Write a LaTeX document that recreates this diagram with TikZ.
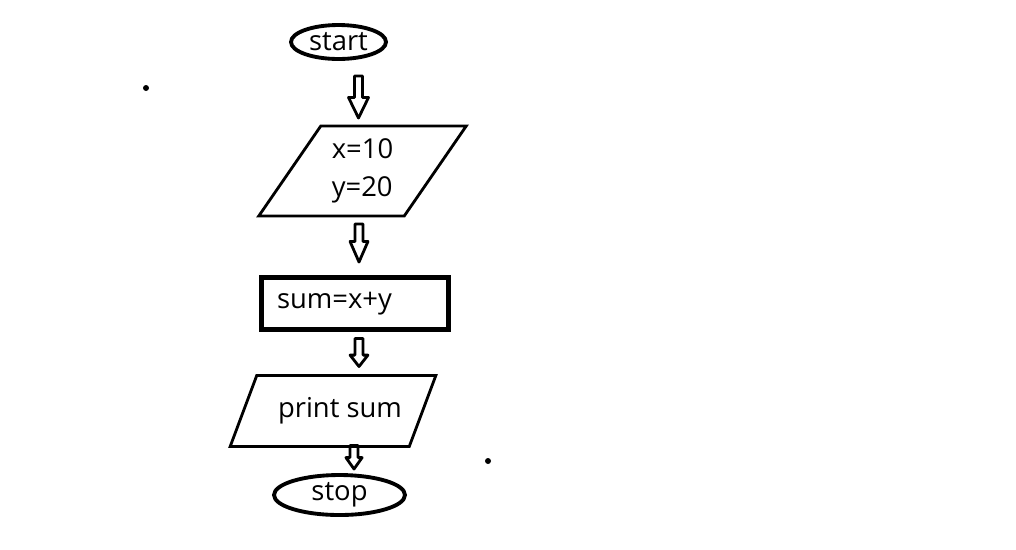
\documentclass[tikz,border=0pt]{standalone}
\usepackage{fontspec}
\setmainfont{Open Sans}
\usetikzlibrary{shapes.geometric,calc}
\tikzset{
  terminal/.style={draw,ellipse,line width=2.2pt,inner sep=0pt,outer sep=0pt},
  io/.style={draw,trapezium,trapezium stretches=true,line width=1.6pt,inner sep=0pt,outer sep=0pt,align=left},
  process/.style={draw,rectangle,line width=2.6pt,outer sep=0pt,inner xsep=.31cm,text width=3.12cm,minimum height=1.04cm,align=left},
  blockarrow/.style 2 args={line width=1.6pt,line join=round,to path={let \p1=(\tikztostart),\p2=(\tikztotarget) in
    (\x1-2.3pt,\y1) -- (\x1+2.3pt,\y1) -- (\x1+2.3pt,\y2+#2) -- (\x1+#1,\y2+#2) -- (\x1,\y2) -- (\x1-#1,\y2+#2) -- (\x1-2.3pt,\y2+#2) -- cycle}}
}
\begin{document}
\begin{tikzpicture}[x=0.02cm,y=-0.02cm,font=\fontsize{15.6}{22}\selectfont]
\useasboundingbox (0,0) rectangle (1016,549);
\node[terminal,minimum width=1.9cm,minimum height=.68cm] (start) at (338.5,42) {start};
\node[io,minimum width=4.16cm,minimum height=1.8cm,trapezium left angle=55,trapezium right angle=125] (input) at (362.5,171) {x=10\\y=20};
\node[process] (sum) at (355,303.5) {sum=x+y};
\node[io,minimum width=4.12cm,minimum height=1.42cm,trapezium left angle=48,trapezium right angle=132] (print) at (333,411) {\hspace*{8pt}print sum};
\node[terminal,minimum width=2.62cm,minimum height=.8cm] (stop) at (339.5,495) {stop};
\draw[blockarrow={5.7pt}{11.7pt}] ([shift={(20,17)}]start.south) to ([shift={(-4.5,-8)}]input.north);
\draw[blockarrow={5.1pt}{11.7pt}] ([shift={(-3.5,8)}]input.south) to ([shift={(4,-15.5)}]sum.north);
\draw[blockarrow={5.1pt}{6.5pt}] ([shift={(4,9)}]sum.south) to ([shift={(26,-9)}]print.north);
\draw[blockarrow={4.6pt}{6.5pt}] ([shift={(21,-1)}]print.south) to ([shift={(14.5,-6)}]stop.north);
\fill (146,88) circle (3);
\fill (488,461) circle (3);
\end{tikzpicture}
\end{document}
